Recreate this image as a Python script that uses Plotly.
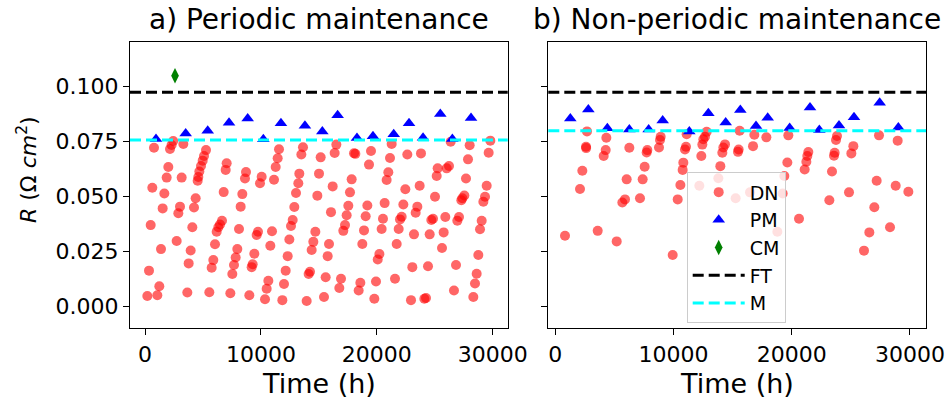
import plotly.graph_objects as go

# ---------------- data ----------------
# a) Periodic maintenance
dn_a_time = [776, 2157, 2295, 2433, 3307, 2013, 1870, 3163, 5263, 5091, 4976, 4832, 4688, 4602,
             7047, 6961, 8714, 8627, 10066, 11562, 11447, 11274, 11130, 13632, 13488, 13315,
             15157, 15014, 16508, 16364, 18033, 18148, 17831, 19499, 19327, 21282, 21138, 20994,
             20850, 22633, 23813, 26374, 26230, 26029, 25252, 25166, 28013, 27869, 27696, 29795,
             29652, 4544, 9922, 13229, 632, 1668, 1524, 489, 3020, 2876, 4372, 4228, 4084, 2732,
             1380, 3940, 3767, 345, 1236, 201, 1064, 3652, 5551, 7363, 9002, 10354, 10498, 10642,
             11850, 11994, 12138, 13948, 15444, 15588, 16767, 16911, 18436, 18580, 19787, 19931,
             21570, 22950, 23065, 24102, 24246, 24418, 26660, 26833, 28329, 28473, 28617, 28761,
             28905, 29049, 29193, 29337, 29480, 6040, 5896, 5752, 6184, 6328, 6471, 6644, 6788,
             8110, 8254, 8397, 7966, 7822, 7678, 7535, 9634, 9749, 9433, 9289, 9203, 10958, 10814,
             12454, 12310, 12597, 12741, 12885, 13029, 14236, 14121, 14380, 14524, 14697, 14870,
             15760, 15875, 16048, 16192, 17111, 17255, 17399, 17543, 17687, 18752, 18896, 19040,
             19184, 20080, 20224, 20418, 20533, 20677, 21714, 21887, 22002, 22146, 22289, 22462,
             23209, 23353, 23497, 23698, 24562, 24706, 24849, 25022, 25625, 25769, 25913, 26948,
             27092, 27294, 27380, 27553]
dn_a_r = [0.0723, 0.0717, 0.0735, 0.0753, 0.0740, 0.0635, 0.0587, 0.0587, 0.0712, 0.0685, 0.0664,
          0.0640, 0.0615, 0.0590, 0.0652, 0.0622, 0.0612, 0.0583, 0.0591, 0.0716, 0.0675, 0.0635,
          0.0577, 0.0725, 0.0692, 0.0605, 0.0679, 0.0605, 0.0737, 0.0699, 0.0698, 0.0695, 0.0579,
          0.0708, 0.0646, 0.0740, 0.0676, 0.0611, 0.0576, 0.0692, 0.0697, 0.0750, 0.0640, 0.0629,
          0.0629, 0.0594, 0.0734, 0.0670, 0.0583, 0.0755, 0.0700, 0.0573, 0.0561, 0.0561, 0.0541,
          0.0515, 0.0447, 0.0371, 0.0455, 0.0425, 0.0493, 0.0451, 0.0361, 0.0299, 0.0262, 0.0256,
          0.0197, 0.0164, 0.0093, 0.0049, 0.0052, 0.0065, 0.0066, 0.0061, 0.0052, 0.0034, 0.0082,
          0.0118, 0.0030, 0.0103, 0.0164, 0.0026, 0.0044, 0.0134, 0.0085, 0.0127, 0.0074, 0.0109,
          0.0036, 0.0115, 0.0127, 0.0030, 0.0180, 0.0036, 0.0040, 0.0184, 0.0074, 0.0190, 0.0044,
          0.0106, 0.0150, 0.0235, 0.0352, 0.0391, 0.0477, 0.0500, 0.0550, 0.0284, 0.0212, 0.0177,
          0.0341, 0.0361, 0.0374, 0.0391, 0.0521, 0.0353, 0.0455, 0.0512, 0.0262, 0.0224, 0.0190,
          0.0149, 0.0326, 0.0341, 0.0241, 0.0193, 0.0180, 0.0343, 0.0277, 0.0306, 0.0230, 0.0367,
          0.0394, 0.0453, 0.0517, 0.0159, 0.0149, 0.0258, 0.0295, 0.0341, 0.0505, 0.0230, 0.0285,
          0.0430, 0.0547, 0.0345, 0.0371, 0.0416, 0.0459, 0.0520, 0.0285, 0.0347, 0.0411, 0.0460,
          0.0215, 0.0240, 0.0353, 0.0400, 0.0471, 0.0285, 0.0353, 0.0397, 0.0409, 0.0465, 0.0534,
          0.0329, 0.0427, 0.0455, 0.0550, 0.0329, 0.0394, 0.0400, 0.0500, 0.0267, 0.0338, 0.0408,
          0.0391, 0.0408, 0.0484, 0.0493, 0.0506]
pm_a_time = [949, 3510, 5410, 7250, 8860, 10210, 11730, 13800, 15300, 16620, 18290, 19670,
             21460, 22780, 23990, 25480, 26520, 28130]
pm_a_r = [0.0762, 0.0788, 0.0800, 0.0836, 0.0856, 0.0761, 0.0834, 0.0823, 0.0797, 0.0870,
          0.0767, 0.0775, 0.0784, 0.0834, 0.0768, 0.0876, 0.0762, 0.0858]
cm_a_time = [2590]
cm_a_r = [0.105]
ft_a = 0.0975
m_a = 0.0758

# b) Non-periodic maintenance
dn_b_time = [2682, 2597, 2610, 2287, 4318, 4262, 4093, 6263, 7786, 7729, 7560, 7391, 6038, 8914,
             8858, 8773, 11113, 11056, 10972, 10831, 10775, 12805, 12664, 12523, 12439, 12354,
             14357, 14216, 14131, 13962, 15596, 15512, 15455, 16840, 16727, 17855, 19715, 19630,
             21407, 21322, 21238, 21097, 23832, 23747, 23634, 23578, 23409, 25215, 25046, 27386,
             28964, 27188, 2090, 820, 3587, 5194, 5897, 5671, 7165, 9930, 10355, 10581, 12185,
             13793, 15258, 16472, 19377, 19235, 18785, 20617, 23184, 24848, 26990, 26568, 26116,
             28317, 28796, 29868]
dn_b_r = [0.0797, 0.0727, 0.0721, 0.0618, 0.0768, 0.0712, 0.0685, 0.0723, 0.0712, 0.0701, 0.0636,
          0.0579, 0.0579, 0.0773, 0.0758, 0.0724, 0.0784, 0.0727, 0.0715, 0.0655, 0.0622, 0.0795,
          0.0773, 0.0761, 0.0737, 0.0685, 0.0738, 0.0724, 0.0700, 0.0639, 0.0800, 0.0715, 0.0704,
          0.0782, 0.0730, 0.0770, 0.0779, 0.0656, 0.0703, 0.0685, 0.0659, 0.0624, 0.0776, 0.0758,
          0.0700, 0.0686, 0.0615, 0.0730, 0.0697, 0.0779, 0.0755, 0.0573, 0.0535, 0.0323, 0.0345,
          0.0297, 0.0488, 0.0474, 0.0493, 0.0235, 0.0488, 0.0553, 0.0550, 0.0584, 0.0493, 0.0520,
          0.0594, 0.0515, 0.0341, 0.0400, 0.0484, 0.0520, 0.0452, 0.0338, 0.0255, 0.0361, 0.0550,
          0.0523]
pm_b_time = [1271, 2795, 4403, 6263, 7898, 9084, 11338, 12946, 14414, 15653, 16980, 17967,
             19828, 21548, 22337, 24001, 25270, 27442, 29021]
pm_b_r = [0.0856, 0.0897, 0.0811, 0.0806, 0.0806, 0.0847, 0.0797, 0.0879, 0.0838, 0.0894,
          0.0821, 0.0859, 0.0812, 0.0906, 0.0803, 0.0824, 0.0861, 0.0927, 0.0815]
ft_b = 0.0975
m_b = 0.0800

panel_titles = ["a) Periodic maintenance", "b) Non-periodic maintenance"]
x_ticks = [0, 10000, 20000, 30000]
y_ticks = [0.0, 0.025, 0.05, 0.075, 0.1]

# ---------------- styles ----------------
FONT = "DejaVu Sans"
W, H = 952, 407
dn_color = "rgba(255,0,0,0.6)"
dash = "11px,5px"

fig = go.Figure()

def add_panel(xa, ya, dn_t, dn_r, pm_t, pm_r, cm_t, cm_r, ft, m, legend):
    fig.add_trace(go.Scatter(x=dn_t, y=dn_r, mode="markers", name="DN",
                             marker=dict(symbol="circle", size=10, color=dn_color),
                             xaxis=xa, yaxis=ya, showlegend=legend, legendgroup="DN",
                             legendrank=1))
    fig.add_trace(go.Scatter(x=pm_t, y=pm_r, mode="markers", name="PM",
                             marker=dict(symbol="triangle-up", size=11, color="blue"),
                             xaxis=xa, yaxis=ya, showlegend=legend, legendgroup="PM",
                             legendrank=2))
    if cm_t is not None:
        fig.add_trace(go.Scatter(x=cm_t, y=cm_r, mode="markers", name="CM",
                                 marker=dict(symbol="diamond-tall", size=11, color="green"),
                                 xaxis=xa, yaxis=ya, showlegend=legend, legendgroup="CM",
                                 legendrank=3))
    xref = ("x" if xa == "x" else xa) + " domain"
    fig.add_shape(type="line", xref=xref, x0=0, x1=1, yref=ya, y0=ft, y1=ft,
                  line=dict(color="black", width=3, dash=dash), layer="above",
                  showlegend=legend, name="FT", legendgroup="FT", legendrank=4)
    fig.add_shape(type="line", xref=xref, x0=0, x1=1, yref=ya, y0=m, y1=m,
                  line=dict(color="cyan", width=3, dash=dash), layer="above",
                  showlegend=legend, name="M", legendgroup="M", legendrank=5)

add_panel("x", "y", dn_a_time, dn_a_r, pm_a_time, pm_a_r, cm_a_time, cm_a_r, ft_a, m_a, True)
add_panel("x2", "y2", dn_b_time, dn_b_r, pm_b_time, pm_b_r, None, None, ft_b, m_b, False)

# geometry (pixels)
ax1 = (130.0, 507.7)
ax2 = (548.3, 926.0)
ytop, ybot = 42.3, 328.3
ydom = [1 - ybot / H, 1 - ytop / H]

axis_common = dict(showline=True, linecolor="black", linewidth=1, mirror=True,
                   ticks="outside", ticklen=6, tickwidth=1, tickcolor="black",
                   showgrid=False, zeroline=False, automargin=False,
                   tickfont=dict(family=FONT, size=22, color="black"))

fig.update_layout(
    width=W, height=H, autosize=False,
    margin=dict(l=0, r=0, t=0, b=0, pad=0),
    plot_bgcolor="white", paper_bgcolor="white",
    font=dict(family=FONT, color="black"),
    xaxis=dict(domain=[ax1[0] / W, ax1[1] / W], range=[-1294, 31294], anchor="y",
               tickvals=x_ticks, tickformat="d", **axis_common),
    xaxis2=dict(domain=[ax2[0] / W, ax2[1] / W], range=[-592, 31361], anchor="y2",
                tickvals=x_ticks, tickformat="d", **axis_common),
    yaxis=dict(domain=ydom, range=[-0.0098, 0.1202], anchor="x",
               tickvals=y_ticks, tickformat=".3f", **axis_common),
    yaxis2=dict(domain=ydom, range=[-0.0098, 0.1202], anchor="x2", matches="y",
                tickvals=y_ticks, showticklabels=False, **axis_common),
    legend=dict(x=686.7 / W, y=1 - 172.3 / H, xanchor="left", yanchor="top",
                bgcolor="rgba(255,255,255,0.8)", bordercolor="#cccccc", borderwidth=1,
                font=dict(family=FONT, size=19, color="black"),
                traceorder="grouped", tracegroupgap=0, itemwidth=52),
    showlegend=True,
)

annots = []
for t, (a0, a1) in zip(panel_titles, [ax1, ax2]):
    annots.append(dict(text=t, x=(a0 + a1) / 2 / W, y=1 - 19 / H, xref="paper", yref="paper",
                       xanchor="center", yanchor="middle", showarrow=False,
                       font=dict(family=FONT, size=28, color="black")))
    annots.append(dict(text="Time (h)", x=(a0 + a1) / 2 / W, y=1 - 383 / H, xref="paper",
                       yref="paper", xanchor="center", yanchor="middle", showarrow=False,
                       font=dict(family=FONT, size=27, color="black")))
annots.append(dict(text="<i>R</i> (Ω <i>cm</i><sup>2</sup>)", x=27 / W, y=1 - 170 / H,
                   xref="paper", yref="paper", xanchor="center", yanchor="middle",
                   textangle=-90, showarrow=False,
                   font=dict(family=FONT, size=22, color="black")))
fig.update_layout(annotations=annots)

fig.write_html("out.html")
